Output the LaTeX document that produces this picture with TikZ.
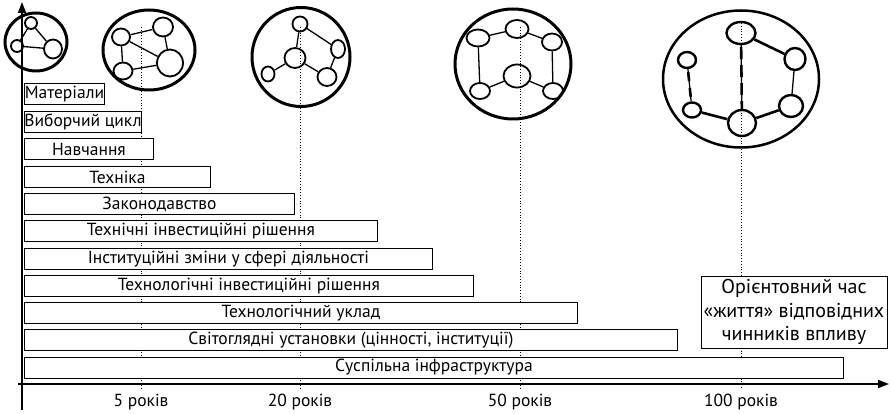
\documentclass[tikz,border=0pt]{standalone}
\usepackage{fontspec}
\setmainfont{PT Sans}
\usetikzlibrary{arrows.meta,shapes.geometric}
\begin{document}
\begin{tikzpicture}[x=1pt,y=-1pt,
  bar/.style={draw, fill=white, line width=0.9pt, anchor=north west, inner sep=0pt,
    minimum height=21pt, font=\fontsize{17.5}{19}\selectfont},
  axisline/.style={line width=1.5pt, -{Triangle[length=11pt,width=8pt]}},
  dotline/.style={line width=0.8pt, dotted},
  bigc/.style={ellipse, draw, line width=3pt, inner sep=0pt},
  sn/.style={ellipse, draw, line width=1.8pt, inner sep=0pt},
  ed/.style={line width=1.3pt},
  ted/.style={line width=2.6pt},
  lbl/.style={font=\fontsize{17.5}{19}\selectfont, inner sep=0pt}
]
\useasboundingbox (0,0) rectangle (891,414);

% dotted time lines
\coordinate (d5t) at (141,27);  \coordinate (d5b) at (141,389);
\coordinate (d20t) at (300,27); \coordinate (d20b) at (300,389);
\coordinate (d50t) at (520,27); \coordinate (d50b) at (520,389);
\coordinate (d100t) at (741,23); \coordinate (d100b) at (741,389);
\draw[dotline] (d5t) -- (d5b);
\draw[dotline] (d20t) -- (d20b);
\draw[dotline] (d50t) -- (d50b);
\draw[dotline] (d100t) -- (d100b);

% axes
\coordinate (vb) at (22,410); \coordinate (vt) at (22,2);
\coordinate (hl) at (18,384); \coordinate (hr) at (889,384);
\draw[axisline] (vb) -- (vt);
\draw[axisline] (hl) -- (hr);

% bars
\node[bar, minimum width=80pt]  (b1)  at (24,83)    {Матеріали};
\node[bar, minimum width=115pt] (b2)  at (24,111)   {Виборчий цикл};
\node[bar, minimum width=129pt] (b3)  at (24,138)   {Навчання};
\node[bar, minimum width=186pt] (b4)  at (24,166)   {Техніка};
\node[bar, minimum width=270pt] (b5)  at (24,193)   {Законодавство};
\node[bar, minimum width=353pt] (b6)  at (24,220)   {Технічні інвестиційні рішення};
\node[bar, minimum width=408pt] (b7)  at (24,248)   {Інституційні зміни у сфері діяльності};
\node[bar, minimum width=449pt] (b8)  at (24,275)   {Технологічні інвестиційні рішення};
\node[bar, minimum width=553pt] (b9)  at (24,302)   {Технологічний уклад};
\node[bar, minimum width=653pt] (b10) at (24,329)   {Світоглядні установки (цінності, інституції)};
\node[bar, minimum width=819pt] (b11) at (24,356.5) {Суспільна інфраструктура};

% legend
\node[draw, fill=white, line width=0.9pt, minimum width=186pt, minimum height=72pt,
  align=center, font=\fontsize{20}{23.5}\selectfont, inner sep=0pt] (leg) at (794,312)
  {Орієнтовний час\\«життя» відповідних\\чинників впливу};

% axis labels
\node[lbl] (l5)   at (141,402) {5 років};
\node[lbl] (l20)  at (300,402) {20 років};
\node[lbl] (l50)  at (520,402) {50 років};
\node[lbl] (l100) at (741,402) {100 років};

% circle 1
\node[bigc, minimum width=62pt, minimum height=58pt] (c1) at (36,42) {};
\node[sn, minimum width=12pt, minimum height=12pt] (c1a) at (31,23) {};
\node[sn, minimum width=12pt, minimum height=12pt] (c1b) at (17,46) {};
\node[sn, minimum width=18pt, minimum height=19pt] (c1c) at (53,49) {};
\draw[ed] (c1a) -- (c1b); \draw[ed] (c1a) -- (c1c); \draw[ed] (c1b) -- (c1c);

% circle 2
\node[bigc, minimum width=92pt, minimum height=80pt] (c2) at (149,50) {};
\node[sn, minimum width=18pt, minimum height=17pt] (c2a) at (121,37) {};
\node[sn, minimum width=20pt, minimum height=19pt] (c2b) at (163,27) {};
\node[sn, minimum width=26pt, minimum height=27pt] (c2c) at (170,63) {};
\node[sn, minimum width=19pt, minimum height=17pt] (c2d) at (123,71) {};
\draw[ed] (c2a) -- (c2b); \draw[ed] (c2b) -- (c2c); \draw[ed] (c2a) -- (c2c);
\draw[ed] (c2a) -- (c2d); \draw[ed] (c2d) -- (c2c);

% circle 3
\node[bigc, minimum width=98pt, minimum height=99pt] (c3) at (301,57) {};
\node[sn, minimum width=15pt, minimum height=15pt] (c3a) at (300,24) {};
\node[sn, minimum width=21pt, minimum height=20pt] (c3b) at (295,58) {};
\node[sn, minimum width=14pt, minimum height=18pt] (c3c) at (338,49) {};
\node[sn, minimum width=19pt, minimum height=18pt] (c3d) at (327,77) {};
\node[sn, minimum width=13pt, minimum height=15pt] (c3e) at (268,74) {};
\draw[ed] (c3a) -- (c3b); \draw[ed] (c3a) -- (c3c); \draw[ed] (c3c) -- (c3d);
\draw[ed] (c3b) -- (c3d); \draw[ed] (c3b) -- (c3e);

% circle 4
\node[bigc, minimum width=116pt, minimum height=110pt] (c4) at (513,64) {};
\node[sn, minimum width=23pt, minimum height=18pt] (c4a) at (517,29) {};
\node[sn, minimum width=23pt, minimum height=17pt] (c4b) at (478,38) {};
\node[sn, minimum width=20pt, minimum height=17pt] (c4c) at (552,42) {};
\node[sn, minimum width=27pt, minimum height=23pt] (c4d) at (517,76) {};
\node[sn, minimum width=20pt, minimum height=16pt] (c4e) at (480,91) {};
\node[sn, minimum width=20pt, minimum height=16pt] (c4f) at (553,91) {};
\draw[ed] (c4b) -- (c4a); \draw[ed] (c4a) -- (c4c);
\draw[ed] (c4b) -- (c4e); \draw[ed] (c4c) -- (c4f);
\draw[ed] (c4e) -- (c4d); \draw[ed] (c4d) -- (c4f);

% circle 5
\node[bigc, line width=2.5pt, minimum width=156pt, minimum height=137pt] (c5) at (741,79) {};
\node[sn, line width=2.4pt, minimum width=29pt, minimum height=22pt] (c5a) at (741,33) {};
\node[sn, line width=2.4pt, minimum width=21pt, minimum height=22pt] (c5b) at (795,59) {};
\node[sn, line width=2.4pt, minimum width=24pt, minimum height=22pt] (c5c) at (791,106) {};
\node[sn, line width=2.4pt, minimum width=28pt, minimum height=26pt] (c5d) at (742,123) {};
\node[sn, line width=2.4pt, minimum width=18pt, minimum height=15pt] (c5e) at (692,110) {};
\node[sn, line width=2.4pt, minimum width=18pt, minimum height=16pt] (c5f) at (687,60) {};
\draw[ted] (c5a) -- (c5b); \draw[ed] (c5b) -- (c5c);
\draw[ted] (c5c) -- (c5d); \draw[ted] (c5d) -- (c5e);
\draw[ed] (c5f) -- (c5e);
\draw[ted, dash pattern=on 9pt off 7pt, dash phase=-3pt] (c5f) -- (c5e);
\draw[ed] (c5a) -- (c5d);
\draw[ted, dash pattern=on 12pt off 6pt, dash phase=-2pt] (c5a) -- (c5d);
\end{tikzpicture}
\end{document}
